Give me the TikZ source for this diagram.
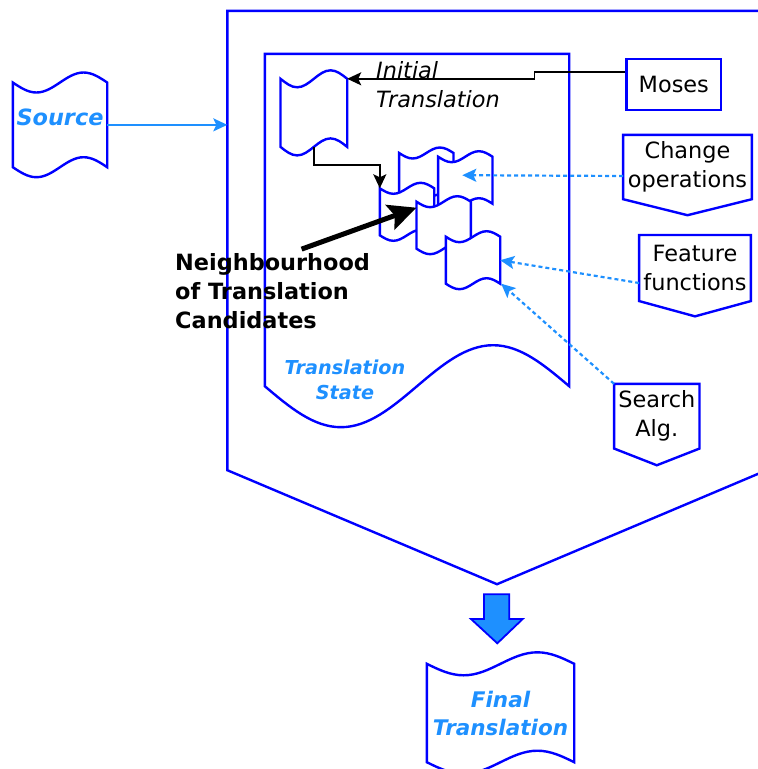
\documentclass[tikz,border=0pt]{standalone}
\usepackage{fontspec}
\setmainfont{DejaVu Sans}
\usetikzlibrary{calc,arrows.meta}

\definecolor{shapeblue}{RGB}{0,0,255}
\definecolor{dodger}{RGB}{30,144,255}
\newcommand{\figfont}{\fontsize{22.4}{29}\selectfont}

% outline of a tape round a node: wavy top and bottom
\newcommand{\tapeline}[2]{(#1.north west)
  sin ($(#1.north west)!.25!(#1.north east)+(0,#2)$)
  cos ($(#1.north west)!.5!(#1.north east)$)
  sin ($(#1.north west)!.75!(#1.north east)+(0,-#2)$)
  cos (#1.north east) -- (#1.south east)
  sin ($(#1.south west)!.75!(#1.south east)+(0,-#2)$)
  cos ($(#1.south west)!.5!(#1.south east)$)
  sin ($(#1.south west)!.25!(#1.south east)+(0,#2)$)
  cos (#1.south west) -- cycle}
% outline of an off-page connector round a node
\newcommand{\offpageline}[2]{(#1.north west) -- (#1.north east) -- (#1.south east)
  -- ($(#1.south)+(0,#2)$) -- (#1.south west) -- cycle}

\def\candidates{{(426.3,176.5)/ca}, {(465.3,180.2)/cb}, {(407,211.8)/cc}, {(443.7,225.2)/cd}, {(473,260.2)/ce}}

\tikzstyle{every node}=[font=\figfont]
\tikzstyle{frame}=[inner sep=0pt]
\tikzstyle{cand}=[inner sep=0pt, minimum width=54pt, minimum height=46.6pt]
\tikzstyle{shapeline}=[draw=shapeblue, line width=2.4pt]
\tikzstyle{doc text}=[text=dodger, font=\figfont\bfseries\itshape, align=center]
\tikzstyle{note}=[inner sep=0pt, anchor=west, align=left]
\tikzstyle{flow}=[draw, line width=1.8pt, -{Stealth[length=14pt,width=13pt,inset=3pt]}]
\tikzstyle{feed}=[draw=dodger, line width=1.8pt, -{Stealth[length=14pt,width=13pt,inset=3pt]}]
\tikzstyle{hint}=[draw=dodger, line width=2.2pt, dash pattern=on 4pt off 3pt, -{Stealth[length=14pt,width=13pt,inset=3pt]}]
\tikzstyle{point at}=[draw, line width=5pt, -{Stealth[length=28pt,width=26pt,inset=5pt]}]
\tikzstyle{blockarrow}=[draw=shapeblue, line width=1.8pt, fill=dodger]

\begin{document}
\begin{tikzpicture}[x=1pt,y=-1pt]
  \useasboundingbox (0,0) rectangle (758,769);

  % The system and the translation state inside it
  \node[frame, minimum width=539pt, minimum height=459pt] (tsys) at (497,240.5) {};
  \draw[shapeline] \offpageline{tsys}{114};
  \node[frame, minimum width=304pt, minimum height=332pt] (tstate) at (417,220) {};
  \draw[shapeline] (tstate.north west) -- (tstate.north east) -- (tstate.south east)
    sin ($(tstate.south west)!.75!(tstate.south east)+(0,-41)$)
    cos (tstate.south)
    sin ($(tstate.south west)!.25!(tstate.south east)+(0,41)$)
    cos (tstate.south west) -- cycle;
  \node[doc text, font=\fontsize{19.2}{25}\selectfont\bfseries\itshape] (tslbl) at (345,380) {Translation\\State};

  % Source and the initial translation
  \node[frame, doc text, minimum width=94pt, minimum height=84.3pt, text depth=16pt] (src) at (60,124.85) {Source};
  \draw[shapeline] \tapeline{src}{10};
  \node[frame, minimum width=66.3pt, minimum height=67.7pt] (init) at (313.85,112.85) {};
  \draw[shapeline] \tapeline{init}{8.5};
  \node[note, font=\figfont\itshape] (initlbl) at (376,85) {Initial\\Translation};

  % The candidates, each one over the one before
  \foreach \pos/\name in \candidates {
    \node[cand] (\name) at \pos {};
    \filldraw[shapeline, fill=white] \tapeline{\name}{5.5};
  }
  \node[note, font=\figfont\bfseries] (nbh) at (175,291) {Neighbourhood\\of Translation\\Candidates};

  % What feeds the search
  \node[frame, draw=shapeblue, line width=2.4pt, minimum width=94.3pt, minimum height=51pt] (moses) at (673.8,84.5) {Moses};
  \node[frame, align=center, minimum width=128.4pt, minimum height=64pt] (chg) at (687.5,167) {Change\\operations};
  \draw[shapeline] \offpageline{chg}{16};
  \node[frame, align=center, minimum width=111.4pt, minimum height=65.7pt] (feat) at (695,268) {Feature\\functions};
  \draw[shapeline] \offpageline{feat}{15.3};
  \node[frame, align=center, minimum width=85pt, minimum height=64.3pt] (srch) at (656.8,416.2) {Search\\Alg.};
  \draw[shapeline] \offpageline{srch}{16.7};

  % Final translation
  \node[frame, doc text, font=\fontsize{21.5}{28}\selectfont\bfseries\itshape, minimum width=147pt, minimum height=98pt] (fin) at (500.5,713) {Final\\Translation};
  \draw[shapeline] \tapeline{fin}{11.5};

  % Connectors
  \path[feed] (src.east) -- (src.east -| tsys.west);
  \path[flow] ([yshift=12.8pt]moses.west) -- ++(-91,0) |- (init.north east);
  \path[flow] (init.south) -- ++(0,18.3) -| (cc.north west);
  \path[point at] ([xshift=29pt,yshift=4pt]nbh.north) -- ([yshift=-6pt]cd.north west);
  \path[hint] ([yshift=-9pt]chg.west) -- ([shift={(-3pt,5pt)}]cb.center);
  \path[hint] ([yshift=-15pt]feat.west) -- (ce.east);
  \path[hint] (srch.north west) -- ([xshift=1pt]ce.south east);
  \filldraw[blockarrow] (484,594.3) -- (509.3,594.3) -- (509.3,619) -- (522.7,619)
    -- (497.3,643.3) -- (471,619) -- (484,619) -- cycle;
\end{tikzpicture}
\end{document}
